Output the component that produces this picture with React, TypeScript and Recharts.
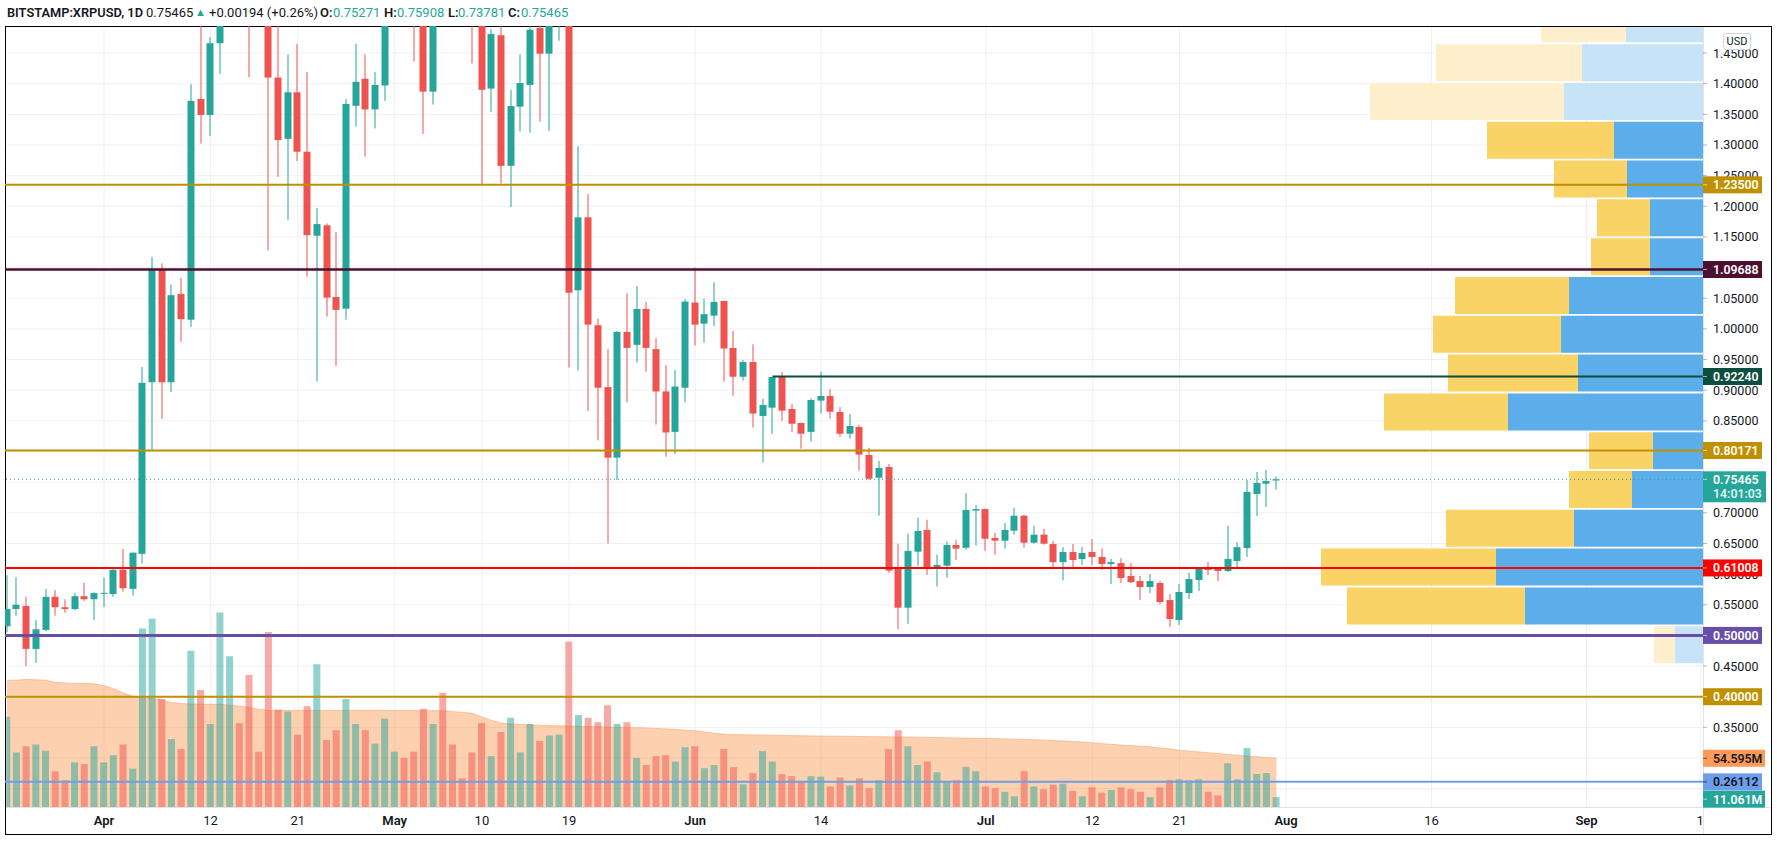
import React from "react";
import {
  ComposedChart,
  Bar,
  Area,
  XAxis,
  YAxis,
  CartesianGrid,
  ReferenceLine,
  Cell,
} from "recharts";

const W = 1777;
const H = 842;
const MARGIN = { top: 26, right: 74, bottom: 35, left: 5 };
const X_DOMAIN: [number, number] = [-10.217, 165.02];
const PRICE_DOMAIN: [number, number] = [0.2201, 1.4941];
const VOL_DOMAIN: [number, number] = [0, 875];
const VP_DOMAIN: [number, number] = [0, 1698];

const UP = "#26a69a";
const DOWN = "#ef5350";
const FONT = "Roboto, 'Liberation Sans', sans-serif";

// first candle is Mar 22 2021, days counted from Apr 1
const firstDay = -10;

const opens = [
  0.515, 0.543, 0.548, 0.478, 0.509, 0.563, 0.546, 0.543, 0.564, 0.559,
  0.569, 0.5675, 0.607, 0.576, 0.633, 0.913, 1.096, 0.913, 1.057, 1.015,
  1.375, 1.349, 1.466, 1.8, 1.84, 1.7, 1.58, 1.55, 1.41, 1.31,
  1.386, 1.289, 1.152, 1.169, 1.052, 1.033, 1.364, 1.408, 1.358, 1.397,
  1.58, 1.6, 1.57, 1.52, 1.387, 1.58, 1.55, 1.53, 1.52, 1.5,
  1.392, 1.479, 1.266, 1.3625, 1.398, 1.491, 1.449, 1.52, 1.56, 1.063,
  1.182, 1.006, 0.905, 0.79, 0.995, 0.974, 1.0325, 0.967, 0.898, 0.832,
  0.904, 1.043, 1.0085, 1.0216, 1.0455, 0.9688, 0.922, 0.946, 0.858, 0.8715,
  0.9216, 0.8693, 0.8465, 0.832, 0.883, 0.8906, 0.8645, 0.829, 0.84, 0.7943,
  0.7573, 0.7748, 0.6104, 0.5452, 0.6366, 0.672, 0.609, 0.6137, 0.6475, 0.643,
  0.7035, 0.706, 0.659, 0.6545, 0.6708, 0.6953, 0.6512, 0.6643, 0.649, 0.6196,
  0.636, 0.6246, 0.636, 0.628, 0.6165, 0.618, 0.597, 0.5887, 0.5789, 0.5855,
  0.5577, 0.525, 0.569, 0.5904, 0.61, 0.6083, 0.605, 0.6213, 0.6425, 0.7307,
  0.7475, 0.75271,
];
const highs = [
  0.598, 0.595, 0.563, 0.525, 0.576, 0.574, 0.559, 0.569, 0.586, 0.57,
  0.594, 0.608, 0.641, 0.635, 0.938, 1.117, 1.107, 1.072, 1.083, 1.399,
  1.52, 1.476, 1.96, 1.96, 1.86, 1.75, 1.64, 1.6, 1.5, 1.448,
  1.465, 1.419, 1.197, 1.172, 1.158, 1.375, 1.465, 1.448, 1.419, 1.62,
  1.64, 1.62, 1.61, 1.55, 1.62, 1.62, 1.6, 1.56, 1.55, 1.52,
  1.489, 1.52, 1.39, 1.448, 1.51, 1.505, 1.55, 1.6, 1.58, 1.298,
  1.22, 1.017, 0.967, 0.9965, 1.058, 1.07, 1.044, 0.985, 0.941, 0.933,
  1.049, 1.1, 1.049, 1.076, 1.046, 0.9966, 0.949, 0.975, 0.886, 0.922,
  0.9297, 0.8774, 0.847, 0.887, 0.93, 0.902, 0.8726, 0.861, 0.8433, 0.806,
  0.7846, 0.7797, 0.6496, 0.666, 0.692, 0.6888, 0.6317, 0.6529, 0.656, 0.7323,
  0.7128, 0.707, 0.667, 0.6834, 0.7083, 0.697, 0.679, 0.674, 0.654, 0.644,
  0.649, 0.644, 0.657, 0.642, 0.6246, 0.626, 0.618, 0.597, 0.6, 0.5887,
  0.5675, 0.5838, 0.602, 0.61, 0.6197, 0.6116, 0.6785, 0.652, 0.7535, 0.7665,
  0.7698, 0.75908,
];
const lows = [
  0.505, 0.532, 0.45, 0.455, 0.507, 0.532, 0.537, 0.541, 0.556, 0.525,
  0.546, 0.563, 0.571, 0.565, 0.617, 0.802, 0.853, 0.897, 0.979, 1.003,
  1.302, 1.315, 1.416, 1.62, 1.62, 1.411, 1.5, 1.128, 1.248, 1.178,
  1.274, 1.085, 0.914, 1.02, 0.94, 1.015, 1.33, 1.281, 1.327, 1.372,
  1.53, 1.52, 1.436, 1.318, 1.366, 1.52, 1.51, 1.5, 1.433, 1.236,
  1.354, 1.237, 1.199, 1.322, 1.32, 1.338, 1.323, 1.47, 0.937, 0.932,
  0.866, 0.818, 0.65, 0.7535, 0.88, 0.945, 0.93, 0.844, 0.7915, 0.796,
  0.88, 0.973, 0.9775, 1.005, 0.914, 0.891, 0.9155, 0.839, 0.782, 0.829,
  0.85, 0.832, 0.8046, 0.816, 0.862, 0.8535, 0.824, 0.821, 0.7687, 0.754,
  0.6953, 0.602, 0.51, 0.519, 0.6137, 0.599, 0.5795, 0.594, 0.6235, 0.6398,
  0.6463, 0.638, 0.6317, 0.6415, 0.6643, 0.643, 0.6496, 0.648, 0.608, 0.59,
  0.6116, 0.615, 0.615, 0.6067, 0.5838, 0.5855, 0.5855, 0.5577, 0.569, 0.551,
  0.5137, 0.517, 0.5593, 0.5724, 0.5985, 0.5887, 0.6034, 0.6116, 0.628, 0.6948,
  0.7095, 0.73781,
];
const closes = [
  0.543, 0.55, 0.478, 0.51, 0.563, 0.546, 0.543, 0.564, 0.559, 0.569,
  0.5695, 0.607, 0.577, 0.635, 0.912, 1.096, 0.913, 1.055, 1.016, 1.372,
  1.349, 1.466, 1.8, 1.84, 1.7, 1.58, 1.55, 1.41, 1.308, 1.386,
  1.289, 1.153, 1.171, 1.051, 1.031, 1.367, 1.403, 1.358, 1.398, 1.58,
  1.6, 1.57, 1.52, 1.387, 1.58, 1.55, 1.53, 1.52, 1.5, 1.39,
  1.481, 1.266, 1.3635, 1.401, 1.488, 1.449, 1.52, 1.56, 1.059, 1.182,
  1.007, 0.904, 0.79, 0.995, 0.969, 1.0325, 0.969, 0.898, 0.831, 0.906,
  1.0445, 1.007, 1.024, 1.044, 0.968, 0.922, 0.946, 0.862, 0.876, 0.9216,
  0.8666, 0.8453, 0.829, 0.884, 0.8906, 0.865, 0.829, 0.8416, 0.795, 0.7556,
  0.7732, 0.6056, 0.5452, 0.6377, 0.6703, 0.6104, 0.6148, 0.6475, 0.6415, 0.7046,
  0.706, 0.6577, 0.6545, 0.672, 0.6953, 0.6512, 0.6643, 0.6496, 0.6196, 0.636,
  0.623, 0.6344, 0.628, 0.6165, 0.6196, 0.5936, 0.587, 0.5789, 0.5887, 0.5545,
  0.5267, 0.5708, 0.592, 0.6083, 0.6067, 0.605, 0.6246, 0.644, 0.734, 0.7486,
  0.7518, 0.75465,
];
// daily volume, millions
const volumes = [
  101, 61, 68, 70, 63, 40, 30, 50, 48, 68,
  50, 58, 70, 43, 200, 211, 121, 76, 65, 175,
  131, 93, 218, 169, 94, 148, 62, 196, 109, 107,
  81, 113, 160, 75, 86, 121, 93, 86, 71, 99,
  62, 55, 62, 110, 93, 128, 70, 32, 61, 94,
  57, 84, 100, 61, 93, 74, 80, 81, 185, 103,
  100, 95, 114, 93, 95, 55, 47, 57, 58, 51,
  67, 68, 43.5, 47, 65, 44.6, 25.5, 38, 62.6, 51,
  36.7, 34.5, 27.7, 34.5, 34, 23, 33, 24, 32, 21,
  30, 65, 86, 68, 47, 51, 39, 28, 30, 45,
  40, 23, 21, 17, 12, 40, 23, 20, 25, 26,
  18, 12, 22, 16, 19, 22, 20, 17, 11, 22,
  30, 31, 30, 31, 17, 13, 49, 31, 66, 37,
  38, 11.061,
];
// volume moving average, millions
const volumeMA = [
  142, 142, 143, 142.5, 142, 139.6, 139, 138.5, 138.3, 138,
  136, 132.5, 127.7, 124, 121.7, 121.5, 119.5, 117, 116, 115.5,
  115.3, 115, 115, 114, 113, 111.6, 109.4, 108.3, 108.3, 108.3,
  108.2, 108.2, 108.2, 108.2, 108.2, 108.2, 108.3, 108.4, 108.3, 108.2,
  108, 108, 108, 108, 108, 107.8, 107, 106, 105, 100.8,
  97, 94, 93, 92.5, 92, 91.5, 91, 91, 90.8, 90.5,
  90, 89.8, 89.5, 89.3, 89, 88.8, 88.5, 88, 87.5, 87,
  86, 85.5, 84, 82.5, 81.5, 81, 81, 80.8, 80.6, 80.4,
  80.2, 80, 79.8, 79.6, 79.5, 79.4, 79.3, 79.2, 79, 78.8,
  78.7, 78.6, 78.5, 78.4, 78.2, 78, 77.8, 77.6, 77.4, 77.2,
  77, 76.9, 76.6, 76.3, 76, 75.7, 75.3, 74.9, 74.4, 73.9,
  73.3, 72.7, 72, 71, 70.2, 69.4, 68.8, 68.1, 67.5, 66.2,
  65, 63.7, 62.7, 61.7, 60.7, 59.8, 58.9, 58, 57, 56.2,
  55.4, 54.595,
];

const dayTicks = [0, 11, 20, 30, 39, 48, 61, 74, 91, 102, 111, 122, 137, 153, 164.8];
const dayLabels = ["Apr", "12", "21", "May", "10", "19", "Jun", "14", "Jul", "12", "21", "Aug", "16", "Sep", "1"];
const monthNames = ["Apr", "May", "Jun", "Jul", "Aug", "Sep"];

// axis labels left visible (the rest sit under the level badges)
const priceTicks = [
  0.35, 0.45, 0.55, 0.6, 0.65, 0.7, 0.85, 0.9,
  0.95, 1.0, 1.05, 1.15, 1.2, 1.25, 1.3, 1.35, 1.4, 1.45,
];
const gridPrices = [
  0.25, 0.3, 0.35, 0.4, 0.45, 0.5, 0.55, 0.6, 0.65, 0.7, 0.75, 0.8, 0.85,
  0.9, 0.95, 1.0, 1.05, 1.1, 1.15, 1.2, 1.25, 1.3, 1.35, 1.4, 1.45,
];

// volume profile rows (row centre price, up volume, down volume)
const vpMid = [
  0.485, 0.5483, 0.6116, 0.6749, 0.7382, 0.8015, 0.8648, 0.9281, 0.9914,
  1.0547, 1.118, 1.1813, 1.2446, 1.3079, 1.3712, 1.4345, 1.4978,
];
const vpUp = [28, 178, 207, 129, 71, 50, 195, 125, 142, 134, 53, 53, 76, 89, 139, 121, 77];
const vpDown = [21, 178, 175, 128, 63, 64, 124, 130, 128, 114, 59, 53, 73, 127, 194, 146, 85];
const vpValueArea = [false, true, true, true, true, true, true, true, true, true, true, true, true, true, false, false, false];

// horizontal levels
const levelPrices = [1.235, 1.09688, 0.80171, 0.61008, 0.5, 0.4, 0.26112];
const levelColors = ["#bf9000", "#4c1130", "#bf9000", "#ff0000", "#674ea7", "#bf9000", "#6d9eeb"];
const levelWidths = [2, 2.5, 2, 2, 3, 2, 2];
const levelText = ["#fff", "#fff", "#fff", "#fff", "#fff", "#fff", "#131722"];
const rayPrice = 0.9224;
const rayStartDay = 69;
const lastPrice = 0.75465;
const countdown = "14:01:03";
const lastVolume = 11.061;
const lastVolumeMA = 54.595;

const candles = opens.map((o, i) => ({
  t: firstDay + i,
  o,
  h: highs[i],
  l: lows[i],
  c: closes[i],
  vol: volumes[i],
  ma: volumeMA[i],
}));

const vpRows = vpMid.map((mid, i) => ({ mid, up: vpUp[i], down: vpDown[i], va: vpValueArea[i] }));

function Candle(props: any) {
  const { x, y, width, height, payload } = props;
  if (x == null || !payload) return null;
  const { o, h, l, c } = payload;
  const top = Math.min(y, y + height);
  const bottom = Math.max(y, y + height);
  const k = (bottom - top) / (h - l || 1e-9);
  const yO = top + (h - o) * k;
  const yC = top + (h - c) * k;
  const color = c >= o ? UP : DOWN;
  const cx = Math.round(x + width / 2);
  const bodyTop = Math.min(yO, yC);
  const bodyH = Math.max(1, Math.abs(yO - yC));
  return (
    <g>
      <rect x={cx - 0.5} y={top} width={1} height={bottom - top} fill={color} />
      <rect x={cx - 3.5} y={bodyTop} width={7} height={bodyH} fill={color} />
    </g>
  );
}

function Badge(props: any) {
  const { viewBox, text, sub, bg, fg, dy = 0, w = 59 } = props;
  if (!viewBox) return null;
  const x = viewBox.x + viewBox.width;
  const y = viewBox.y + dy;
  const top = sub ? y - 8 : y - 8.5;
  const h = sub ? 31 : 17;
  return (
    <g>
      <rect x={x} y={top} width={w} height={h} fill={bg} />
      <line x1={x} x2={x + 4} y1={y} y2={y} stroke={fg} strokeOpacity={0.6} />
      <text x={x + 10} y={y} dy="0.36em" fill={fg} fontSize={12.3} fontWeight={600} fontFamily={FONT}>
        {text}
      </text>
      {sub ? (
        <text x={x + 10} y={y + 14} dy="0.36em" fill={fg} fontSize={12.3} fontWeight={600} fontFamily={FONT} opacity={0.85}>
          {sub}
        </text>
      ) : null}
    </g>
  );
}

function PriceTick(props: any) {
  const { x, y, payload } = props;
  return (
    <g>
      <line x1={x} x2={x + 4} y1={y} y2={y} stroke="#b2b5be" />
      <text x={x + 10} y={y} dy="0.36em" fontSize={12.5} fill="#131722" fontFamily={FONT}>
        {Number(payload.value).toFixed(5)}
      </text>
    </g>
  );
}

function DateTick(props: any) {
  const { x, y, payload } = props;
  const label = dayLabels[dayTicks.indexOf(payload.value)] ?? "";
  const bold = monthNames.includes(label);
  return (
    <text x={x} y={y + 18} textAnchor={label === "1" ? "end" : "middle"} dx={label === "1" ? 3 : 0} fontSize={13} fill="#131722" fontWeight={bold ? 600 : 400} fontFamily={FONT}>
      {label}
    </text>
  );
}

const layer: React.CSSProperties = { position: "absolute", left: 0, top: 0 };

export default function App() {
  return (
    <div style={{ position: "absolute", left: 0, top: 0, width: W, height: H, background: "#fff", overflow: "hidden", fontFamily: FONT }}>
      {/* volume + grid */}
      <div style={layer}>
        <ComposedChart width={W} height={H} data={candles} margin={MARGIN}>
          <XAxis dataKey="t" type="number" domain={X_DOMAIN} allowDataOverflow hide />
          <YAxis yAxisId="v" hide domain={VOL_DOMAIN} allowDataOverflow />
          <YAxis yAxisId="p" hide domain={PRICE_DOMAIN} allowDataOverflow />
          <CartesianGrid yAxisId="p" horizontalValues={gridPrices} verticalValues={dayTicks} stroke="#eff0f3" />
          <Bar yAxisId="v" dataKey="vol" barSize={7} isAnimationActive={false}>
            {candles.map((d, i) => (
              <Cell key={i} fill={d.c >= d.o ? UP : DOWN} fillOpacity={0.5} />
            ))}
          </Bar>
          <Area
            yAxisId="v"
            dataKey="ma"
            type="linear"
            fill="#f98a3a"
            fillOpacity={0.4}
            stroke="#f9a673"
            strokeOpacity={0.6}
            strokeWidth={1}
            isAnimationActive={false}
          />
        </ComposedChart>
      </div>

      {/* volume profile */}
      <div style={layer}>
        <ComposedChart layout="vertical" width={W} height={H} data={vpRows} margin={MARGIN}>
          <XAxis type="number" domain={VP_DOMAIN} reversed hide />
          <YAxis type="number" dataKey="mid" domain={PRICE_DOMAIN} allowDataOverflow reversed hide />
          <Bar dataKey="up" stackId="vp" barSize={37} isAnimationActive={false}>
            {vpRows.map((r, i) => (
              <Cell key={i} fill={r.va ? "#5caeea" : "#c6e3f7"} />
            ))}
          </Bar>
          <Bar dataKey="down" stackId="vp" barSize={37} isAnimationActive={false}>
            {vpRows.map((r, i) => (
              <Cell key={i} fill={r.va ? "#fad366" : "#fdefcc"} />
            ))}
          </Bar>
        </ComposedChart>
      </div>

      {/* frame */}
      <div style={{ position: "absolute", left: 1703, top: 26, width: 1, height: 809, background: "#e0e3eb" }} />
      <div style={{ position: "absolute", left: 5, top: 807, width: 1767, height: 1, background: "#e0e3eb" }} />
      <div style={{ position: "absolute", left: 5, top: 26, width: 1767, height: 809, border: "1px solid #000", boxSizing: "border-box" }} />

      {/* candles, level lines, axes */}
      <div style={layer}>
        <ComposedChart width={W} height={H} data={candles} margin={{ top: 26, right: 0, bottom: 0, left: 5 }}>
          <XAxis
            dataKey="t"
            type="number"
            domain={X_DOMAIN}
            allowDataOverflow
            ticks={dayTicks}
            interval={0}
            height={35}
            axisLine={false}
            tickLine={false}
            tickSize={0}
            tickMargin={0}
            tick={<DateTick />}
          />
          <YAxis
            yAxisId="p"
            orientation="right"
            type="number"
            domain={PRICE_DOMAIN}
            allowDataOverflow
            ticks={priceTicks}
            interval={0}
            width={74}
            axisLine={false}
            tickLine={false}
            tickSize={0}
            tickMargin={0}
            tick={<PriceTick />}
          />
          <Bar
            yAxisId="p"
            dataKey={(d: any) => [d.l, d.h]}
            barSize={7}
            shape={(p: any) => <Candle {...p} />}
            isAnimationActive={false}
          />
          <ReferenceLine yAxisId="p" y={lastPrice} stroke={UP} strokeWidth={1} strokeDasharray="1 3" />
          {levelPrices.map((p, i) => (
            <ReferenceLine key={p} yAxisId="p" y={p} stroke={levelColors[i]} strokeWidth={levelWidths[i]} />
          ))}
          <ReferenceLine
            yAxisId="p"
            segment={[
              { x: rayStartDay, y: rayPrice },
              { x: 165, y: rayPrice },
            ]}
            stroke="#0b4d3e"
            strokeWidth={2}
          />
        </ComposedChart>
      </div>

      {/* price scale badges */}
      <div style={layer}>
        <ComposedChart width={W} height={H} data={candles} margin={MARGIN}>
          <XAxis dataKey="t" type="number" domain={X_DOMAIN} allowDataOverflow hide />
          <YAxis yAxisId="p" hide domain={PRICE_DOMAIN} allowDataOverflow />
          <YAxis yAxisId="v" hide domain={VOL_DOMAIN} allowDataOverflow />
          <ReferenceLine
            yAxisId="p"
            y={lastPrice}
            stroke="none"
            label={(lp: any) => <Badge viewBox={lp.viewBox} text={lastPrice.toFixed(5)} sub={countdown} bg={UP} fg="#fff" w={63} />}
          />
          {levelPrices.map((p, i) => (
            <ReferenceLine
              key={p}
              yAxisId="p"
              y={p}
              stroke="none"
              label={(lp: any) => <Badge viewBox={lp.viewBox} text={p.toFixed(5)} bg={levelColors[i]} fg={levelText[i]} />}
            />
          ))}
          <ReferenceLine
            yAxisId="p"
            y={rayPrice}
            stroke="none"
            label={(lp: any) => <Badge viewBox={lp.viewBox} text={rayPrice.toFixed(5)} bg="#0b4d3e" fg="#fff" />}
          />
          <ReferenceLine
            yAxisId="v"
            y={lastVolumeMA}
            stroke="none"
            label={(lp: any) => <Badge viewBox={lp.viewBox} text={lastVolumeMA.toFixed(3) + "M"} bg="#ff9b57" fg="#131722" w={62} />}
          />
          <ReferenceLine
            yAxisId="v"
            y={lastVolume}
            stroke="none"
            label={(lp: any) => <Badge viewBox={lp.viewBox} text={lastVolume.toFixed(3) + "M"} bg={UP} fg="#fff" w={62} dy={2} />}
          />
        </ComposedChart>
      </div>

      {/* header */}
      <div style={{ position: "absolute", left: 0, top: 4, width: 700, height: 18, fontSize: 13, lineHeight: "17px", color: "#131722", whiteSpace: "nowrap" }}>
        <span style={{ position: "absolute", left: 7, fontWeight: 600, fontSize: 12.8 }}>BITSTAMP:XRPUSD, 1D</span>
        <span style={{ position: "absolute", left: 146 }}>0.75465</span>
        <span style={{ position: "absolute", left: 195, color: UP, fontSize: 11 }}>▲</span>
        <span style={{ position: "absolute", left: 209 }}>+0.00194 (+0.26%)</span>
        <span style={{ position: "absolute", left: 320, fontWeight: 600 }}>O:</span>
        <span style={{ position: "absolute", left: 333, color: UP }}>0.75271</span>
        <span style={{ position: "absolute", left: 384, fontWeight: 600 }}>H:</span>
        <span style={{ position: "absolute", left: 397, color: UP }}>0.75908</span>
        <span style={{ position: "absolute", left: 448, fontWeight: 600 }}>L:</span>
        <span style={{ position: "absolute", left: 458, color: UP }}>0.73781</span>
        <span style={{ position: "absolute", left: 508, fontWeight: 600 }}>C:</span>
        <span style={{ position: "absolute", left: 521, color: UP }}>0.75465</span>
      </div>

      {/* currency box */}
      <div
        style={{
          position: "absolute",
          left: 1723,
          top: 33,
          width: 28,
          height: 17,
          border: "1px solid #d1d4dc",
          borderRadius: 3,
          background: "#fff",
          fontSize: 11,
          lineHeight: "15px",
          textAlign: "center",
          color: "#131722",
          boxSizing: "border-box",
        }}
      >
        USD
      </div>
    </div>
  );
}
